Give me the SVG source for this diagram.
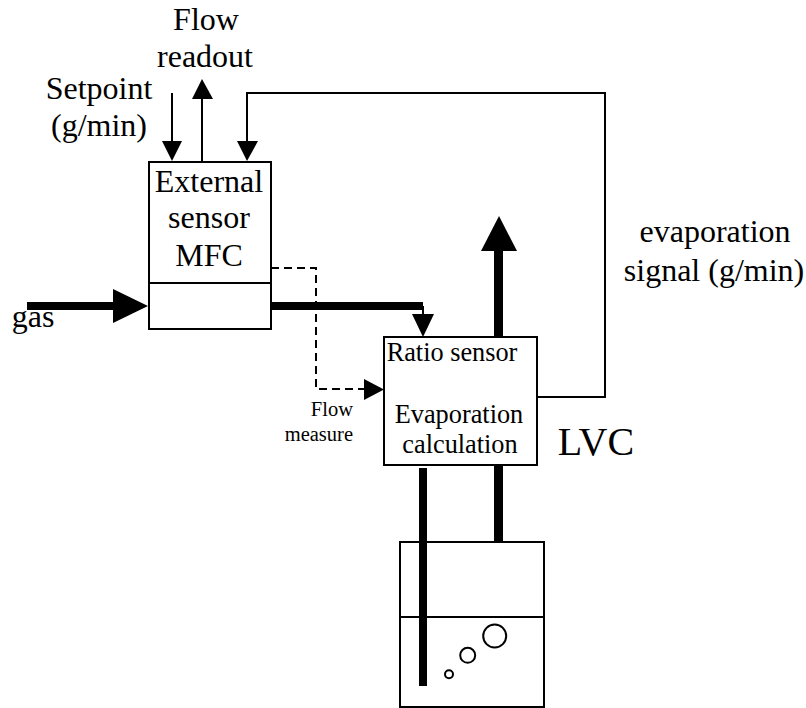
<svg xmlns="http://www.w3.org/2000/svg" width="806" height="708" viewBox="0 0 806 708">
<style>
text{font-family:"Liberation Serif",serif;fill:#000;text-anchor:middle}
.l{font-size:32px}
.m{font-size:26.3px}
.s{font-size:20.5px;text-anchor:end}
.box{fill:none;stroke:#000;stroke-width:2}
.thin{fill:none;stroke:#000;stroke-width:2}
.thick{fill:none;stroke:#000;stroke-width:8}
.dash{fill:none;stroke:#000;stroke-width:2;stroke-dasharray:8 5}
</style>
<rect width="806" height="708" fill="#fff"/>
<g id="connectors">
<path class="thick" d="M27 306H114"/><polygon points="113,289 148,306 113,323"/>
<path class="thick" d="M271 306H423"/>
<path class="thin" d="M423 306V316"/><polygon points="412,314 434,314 423,337"/>
<path class="thin" d="M172 93V143"/><polygon points="162,141 182,141 172,161"/>
<path class="thin" d="M202 161V97"/><polygon points="192,99 213,99 202,79"/>
<path class="thin" d="M537 397H605V93H247V143"/><polygon points="237,141 258,141 247,161"/>
<path class="dash" d="M271 268H316V389H366"/><polygon points="364,379 384,389.500 364,400"/>
<path style="fill:none;stroke:#000;stroke-width:9" d="M498.500 337V249"/><polygon points="481,251 517,251 499,216"/>
<path class="thick" d="M423 468V686"/>
<path style="fill:none;stroke:#000;stroke-width:9" d="M498.500 465V542"/>
</g>
<g id="mfc"><rect class="box" x="149" y="162" width="122" height="167"/><path class="thin" d="M149 283H271"/>
<text class="l" x="209" y="192">External</text><text class="l" x="209" y="228">sensor</text><text class="l" x="209" y="266">MFC</text></g>
<g id="lvc"><rect class="box" x="384" y="337" width="153" height="128"/>
<text class="m" x="452" y="361">Ratio sensor</text><text class="m" x="459" y="423">Evaporation</text><text class="m" x="460" y="453">calculation</text></g>
<g id="vessel"><rect class="thin" x="400" y="542" width="144" height="165"/><path class="thin" d="M400 617H544"/>
<circle class="thin" cx="494.700" cy="636" r="11.500"/><circle class="thin" cx="467.700" cy="655.300" r="7.500"/><circle class="thin" cx="449" cy="674.300" r="4"/></g>
<g id="labels">
<text class="l" x="206" y="30">Flow</text><text class="l" x="205" y="67">readout</text>
<text class="l" x="99" y="99">Setpoint</text><text class="l" x="99" y="136">(g/min)</text>
<text class="l" x="715" y="242">evaporation</text><text class="l" x="714" y="281">signal (g/min)</text>
<text class="l" x="33" y="327">gas</text>
<text class="s" x="353" y="416">Flow</text><text class="s" x="353" y="441">measure</text>
<text x="596" y="455" style="font-size:40px">LVC</text>
</g>
</svg>
